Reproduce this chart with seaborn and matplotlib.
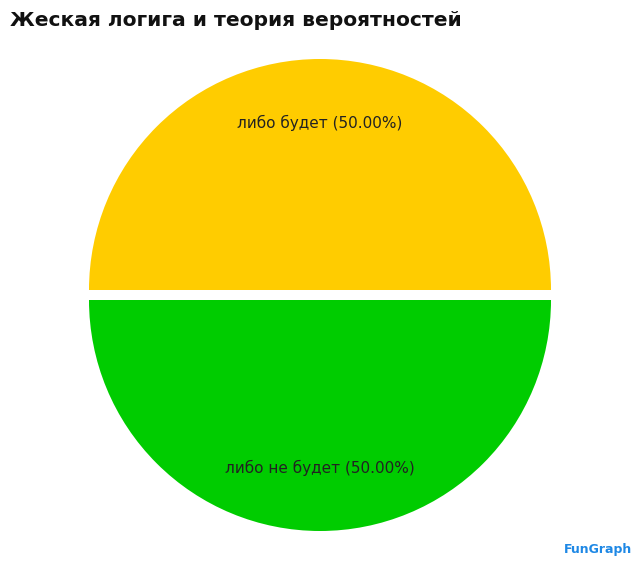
import matplotlib
matplotlib.use("Agg")
import matplotlib.pyplot as plt
import seaborn as sns

title = "Жеская логига и теория вероятностей"
categories = ["либо будет", "либо не будет"]
values = [50.0, 50.0]
colors = ["#FFCC00", "#00CC00"]

sns.set_theme(style="white")
plt.rcParams['font.family'] = ['DejaVu Sans']

fig = plt.figure(figsize=(6.4, 5.65), dpi=100)
ax = fig.add_axes([0, 0, 1, 1])
total = sum(values)
labels = [f"{c} ({v/total*100:.2f}%)" for c, v in zip(categories, values)]
wedges, texts = ax.pie(values, colors=colors, startangle=0, counterclock=True,
                       radius=231, explode=[5, 5], labels=labels, labeldistance=0.725,
                       wedgeprops=dict(linewidth=0), textprops=dict(fontsize=11, color="#222222"))
for t in texts:
    t.set_ha("center"); t.set_va("center")
ax.set_xlim(-320, 320)
ax.set_ylim(-270, 295)
ax.set_aspect("equal")
ax.axis("off")
fig.text(10/640, 1 - 21/565, title, fontsize=14.6, fontweight="bold", ha="left", va="center", color="#111111")
fig.text(632/640, 1 - 549/565, "FunGraph", fontsize=9, fontweight="bold", ha="right", va="center", color="#1E88E5")
fig.savefig("out.png", dpi=100)
